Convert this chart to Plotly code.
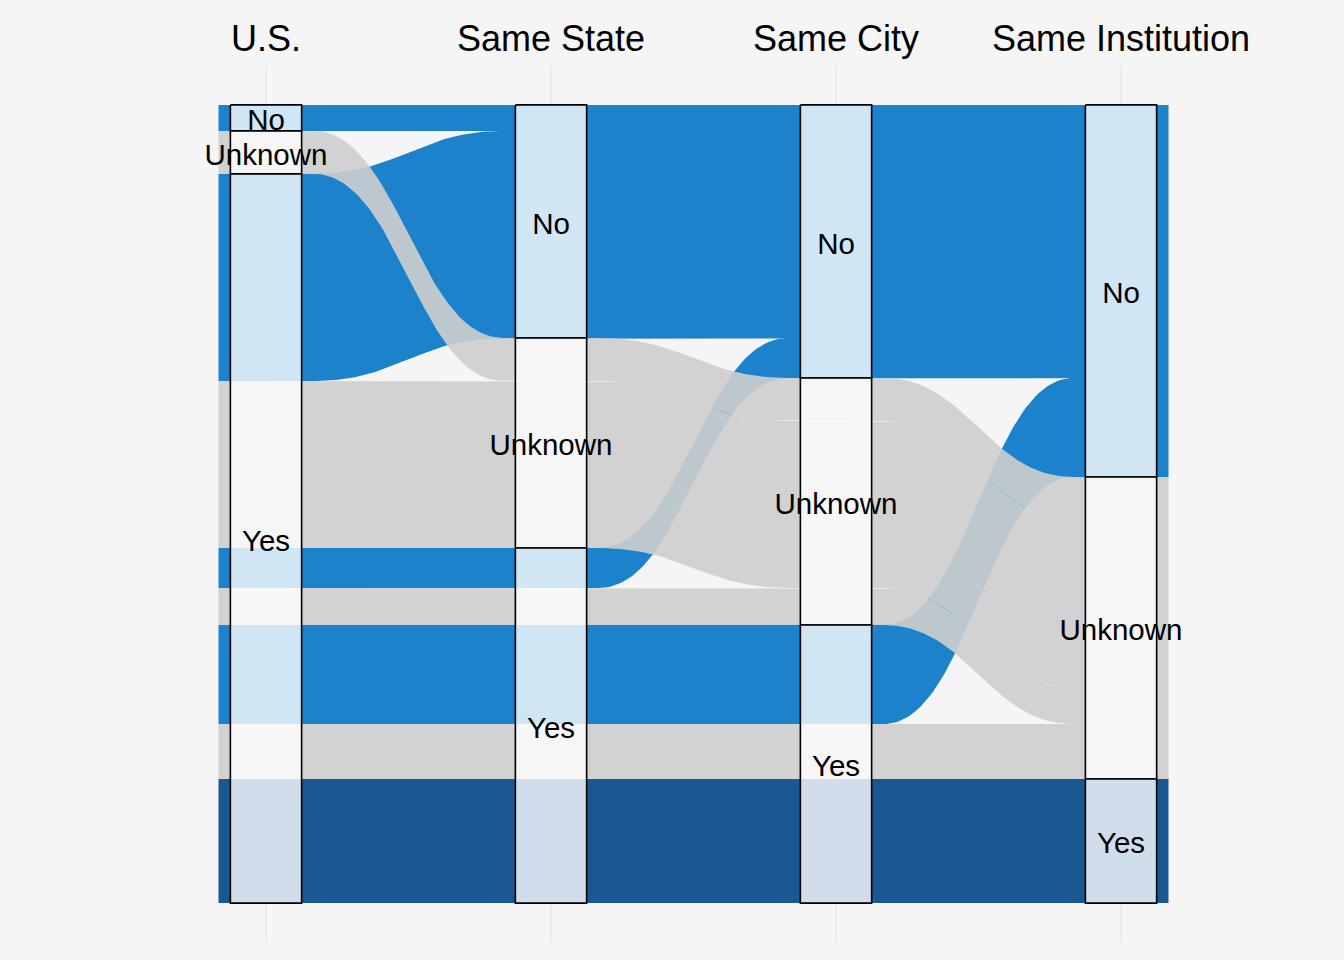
import numpy as np
import plotly.graph_objects as go

# ---- data (one row per alluvium) ----
axes_names = ["U.S.", "Same State", "Same City", "Same Institution"]
strata = ["No", "Unknown", "Yes"]
us = ["No", "Unknown", "Yes", "Yes", "Yes", "Yes", "Yes", "Yes", "Yes"]
same_state = ["No", "Unknown", "No", "Unknown", "Yes", "Yes", "Yes", "Yes", "Yes"]
same_city = ["No", "Unknown", "No", "Unknown", "No", "Unknown", "Yes", "Yes", "Yes"]
same_inst = ["No", "Unknown", "No", "Unknown", "No", "Unknown", "No", "Unknown", "Yes"]
counts = [26, 43, 207, 167, 40, 37, 99, 55, 124]

fill_colors = {"No": "rgb(28,130,204)", "Unknown": "rgba(206,206,206,0.9)", "Yes": "rgb(26,88,148)"}

FONT = "Liberation Sans, Arial, sans-serif"
W_FLOW = 1 / 3
W_STR = 1 / 4
K = 0.45

cols = [us, same_state, same_city, same_inst]
n = len(counts)
T = sum(counts)
order = sorted(range(n), key=lambda a: tuple(strata.index(c[a]) for c in cols))

tops = np.zeros((len(cols), n))
bounds = []
for i, col in enumerate(cols):
    y = 0
    for s in strata:
        y0 = y
        for a in order:
            if col[a] == s:
                tops[i, a] = y
                y += counts[a]
        if y > y0:
            bounds.append((i, s, y0, y))


def edge(ys):
    xs_out, ys_out = [1 - W_FLOW / 2], [ys[0]]
    t = np.linspace(0, 1, 80)
    for i in range(len(ys) - 1):
        x0 = i + 1 + W_FLOW / 2
        x1 = i + 2 - W_FLOW / 2
        dx = x1 - x0
        bx = (1 - t) ** 3 * x0 + 3 * (1 - t) ** 2 * t * (x0 + K * dx) + 3 * (1 - t) * t ** 2 * (x1 - K * dx) + t ** 3 * x1
        by = (1 - t) ** 3 * ys[i] + 3 * (1 - t) ** 2 * t * ys[i] + 3 * (1 - t) * t ** 2 * ys[i + 1] + t ** 3 * ys[i + 1]
        xs_out += list(bx)
        ys_out += list(by)
    xs_out.append(len(ys) + W_FLOW / 2)
    ys_out.append(ys[-1])
    return xs_out, ys_out


fig = go.Figure()

# draw non-grey flows first, grey on top
draw_order = [a for a in range(n) if same_inst[a] != "Unknown"] + [a for a in range(n) if same_inst[a] == "Unknown"]
for a in draw_order:
    tx, ty = edge(list(tops[:, a]))
    bx, by = edge(list(tops[:, a] + counts[a]))
    px = tx + bx[::-1] + [tx[0]]
    py = ty + by[::-1] + [ty[0]]
    fig.add_trace(go.Scatter(x=px, y=py, mode="lines", fill="toself",
                             fillcolor=fill_colors[same_inst[a]], line=dict(width=0),
                             hoverinfo="skip", showlegend=False))

# strata boxes
lx, ly, lt = [], [], []
label_shift = T * 0.006
for i, s, y0, y1 in bounds:
    xc = i + 1
    fig.add_trace(go.Scatter(
        x=[xc - W_STR / 2, xc + W_STR / 2, xc + W_STR / 2, xc - W_STR / 2, xc - W_STR / 2],
        y=[y0, y0, y1, y1, y0], mode="lines", fill="toself",
        fillcolor="rgba(255,255,255,0.8)", line=dict(color="black", width=1.6),
        hoverinfo="skip", showlegend=False))
    lx.append(xc)
    ly.append((y0 + y1) / 2 + label_shift)
    lt.append(s)

fig.add_trace(go.Scatter(x=lx, y=ly, text=lt, mode="text",
                         textfont=dict(family=FONT, size=29.5, color="black"),
                         hoverinfo="skip", showlegend=False))

fig.update_layout(
    width=1344, height=960,
    margin=dict(l=95, r=52, t=65, b=17),
    paper_bgcolor="#f5f5f5", plot_bgcolor="#f5f5f5",
    font=dict(family=FONT, color="black"),
    xaxis=dict(range=[0.4, 4.6], side="top", tickmode="array",
               tickvals=[1, 2, 3, 4], ticktext=axes_names,
               tickfont=dict(family=FONT, size=36, color="black"),
               showgrid=True, gridcolor="#ebebeb", gridwidth=2,
               zeroline=False, showline=False, ticks="", ticklabelstandoff=6,
               fixedrange=True),
    yaxis=dict(range=[T * 1.05, -T * 0.05], showgrid=False, zeroline=False,
               showticklabels=False, showline=False, ticks="", fixedrange=True),
)

fig.write_html("out.html", config={"displayModeBar": False},
               post_script="document.body.style.margin='0';document.body.style.backgroundColor='#f5f5f5';")
